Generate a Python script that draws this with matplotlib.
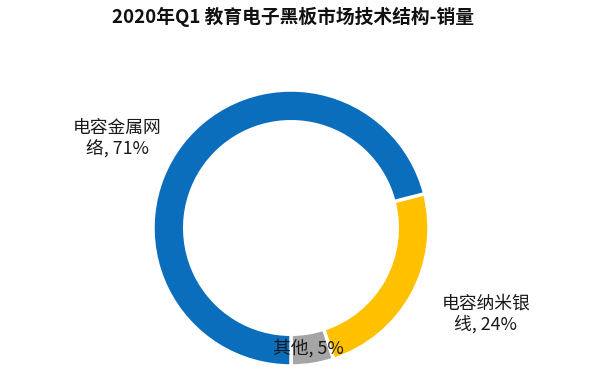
import matplotlib
matplotlib.use("Agg")
import matplotlib.pyplot as plt

plt.rcParams['font.family'] = ['Noto Sans CJK SC', 'DejaVu Sans']

# data (counter-clockwise from the bottom)
labels = ["其他, 5%", "电容纳米银\n线, 24%", "电容金属网\n络, 71%"]
shares = [5, 24, 71]
colors = ["#A5A5A5", "#FFC000", "#0A6EBD"]
title = "2020年Q1 教育电子黑板市场技术结构-销量"

fig = plt.figure(figsize=(6, 3.76), dpi=100)
ax = fig.add_axes([0, 0, 1, 1])

cx, cy, r = 291, 228, 138
wedges, _ = ax.pie(shares, colors=colors, startangle=270, counterclock=True,
                   center=(cx, cy), radius=r, frame=True,
                   wedgeprops=dict(width=r * 0.23, edgecolor="white", linewidth=2.5))
# pie in a flipped y axis mirrors the angles, so flip back
for w in wedges:
    t1, t2 = w.theta1, w.theta2
    w.set_theta1(-t2)
    w.set_theta2(-t1)
ax.set_xlim(0, 600)
ax.set_ylim(376, 0)
ax.set_aspect("equal")
ax.axis("off")

label_pos = [(308, 348), (486, 314), (117, 138)]
for text, (x, y) in zip(labels, label_pos):
    ax.text(x, y, text, ha="center", va="center", fontsize=12.8,
            color="#1a1a1a", linespacing=1.15)

ax.text(293, 17, title, ha="center", va="center", fontsize=13.5,
        fontweight="bold", color="#111111")

fig.savefig("out.png", dpi=100, facecolor="white")
